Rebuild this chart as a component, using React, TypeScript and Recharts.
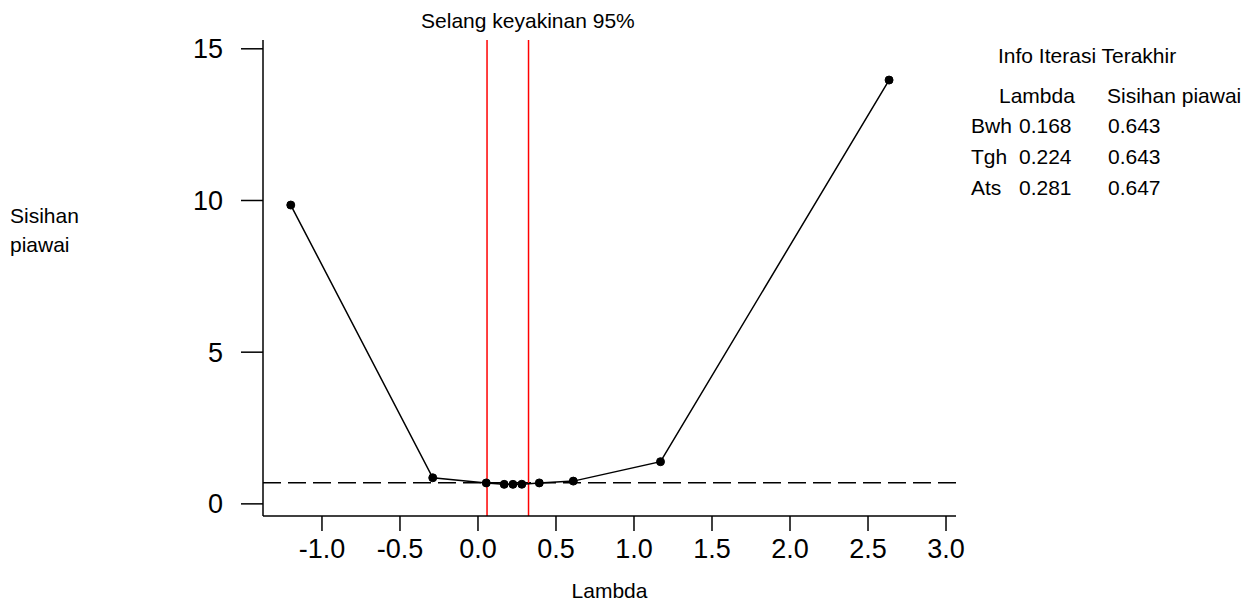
import { LineChart, Line, XAxis, YAxis, ReferenceLine } from 'recharts';

const lambdas = [-1.2, -0.29, 0.053, 0.168, 0.224, 0.281, 0.393, 0.611, 1.17, 2.635];
const stdDevs = [9.85, 0.86, 0.69, 0.643, 0.643, 0.647, 0.69, 0.75, 1.39, 13.97];
const xTicks = [-1, -0.5, 0, 0.5, 1, 1.5, 2, 2.5, 3];
const yTicks = [0, 5, 10, 15];
const xDomain = [-1.378, 3.064];
const yDomain = [-0.4, 15.29];
const ciBounds = [0.058, 0.324];
const cutoff = 0.695;
const titleAt = 0.32;

const infoRows = ['Bwh', 'Tgh', 'Ats'];
const infoLambda = ['0.168', '0.224', '0.281'];
const infoSd = ['0.643', '0.643', '0.647'];

const font = '"Liberation Sans", Arial, sans-serif';

export default function App() {
  const data = lambdas.map((l, i) => ({ lambda: l, sd: stdDevs[i] }));

  return (
    <div style={{ position: 'absolute', left: 0, top: 0, width: 1260, height: 609, background: '#fff', fontFamily: font }}>
      <LineChart width={1260} height={609} data={data}
        margin={{ top: 40, right: 304, bottom: 8, left: 203 }}>
        <XAxis dataKey="lambda" type="number" domain={xDomain} ticks={xTicks} allowDataOverflow
          tickFormatter={(v: number) => v.toFixed(1)} height={85}
          tick={{ fill: '#000', fontSize: 27, fontFamily: font }} tickSize={15} tickMargin={8}
          stroke="#000" strokeWidth={1.5}
          label={{ value: 'Lambda', position: 'insideBottom', offset: 3, fill: '#000', fontSize: 21, fontFamily: font }} />
        <XAxis xAxisId="top" orientation="top" type="number" domain={xDomain} allowDataOverflow
          tick={false} tickLine={false} height={0} stroke="#000" strokeWidth={1.5} />
        <YAxis type="number" domain={yDomain} ticks={yTicks} allowDataOverflow width={60}
          tick={{ fill: '#000', fontSize: 27, fontFamily: font }} tickSize={22} tickMargin={18}
          stroke="#000" strokeWidth={1.5} />
        <YAxis yAxisId="right" orientation="right" type="number" domain={yDomain} allowDataOverflow
          tick={false} tickLine={false} width={0} stroke="#000" strokeWidth={1.5} />
        <ReferenceLine y={cutoff} stroke="#000" strokeWidth={1.5} strokeDasharray="18 7" />
        <ReferenceLine x={ciBounds[0]} stroke="#ff0000" strokeWidth={1.5} />
        <ReferenceLine x={ciBounds[1]} stroke="#ff0000" strokeWidth={1.5} />
        <ReferenceLine x={titleAt} stroke="none"
          label={{ value: 'Selang keyakinan 95%', position: 'top', offset: 12, fill: '#000', fontSize: 21, fontFamily: font }} />
        <Line dataKey="sd" stroke="#000" strokeWidth={1.5} isAnimationActive={false}
          dot={{ r: 4, fill: '#000', stroke: '#000', strokeWidth: 1 }} />
      </LineChart>

      <div style={{ position: 'absolute', left: 10, top: 201, fontSize: 21, lineHeight: '29px', color: '#000' }}>
        Sisihan<br />piawai
      </div>

      <div style={{ position: 'absolute', left: 998, top: 44, fontSize: 21, color: '#000', whiteSpace: 'nowrap', lineHeight: '24px' }}>
        Info Iterasi Terakhir
      </div>
      <div style={{ position: 'absolute', left: 999, top: 84, fontSize: 21, color: '#000', whiteSpace: 'nowrap', lineHeight: '24px' }}>
        Lambda
      </div>
      <div style={{ position: 'absolute', left: 1107, top: 84, fontSize: 21, color: '#000', whiteSpace: 'nowrap', lineHeight: '24px' }}>
        Sisihan piawai
      </div>
      {infoRows.map((r, i) => (
        <div key={r} style={{ position: 'absolute', top: 114 + i * 31, left: 0, fontSize: 21, color: '#000', lineHeight: '24px', whiteSpace: 'nowrap' }}>
          <span style={{ position: 'absolute', left: 971 }}>{r}</span>
          <span style={{ position: 'absolute', left: 1019 }}>{infoLambda[i]}</span>
          <span style={{ position: 'absolute', left: 1108 }}>{infoSd[i]}</span>
        </div>
      ))}
    </div>
  );
}
